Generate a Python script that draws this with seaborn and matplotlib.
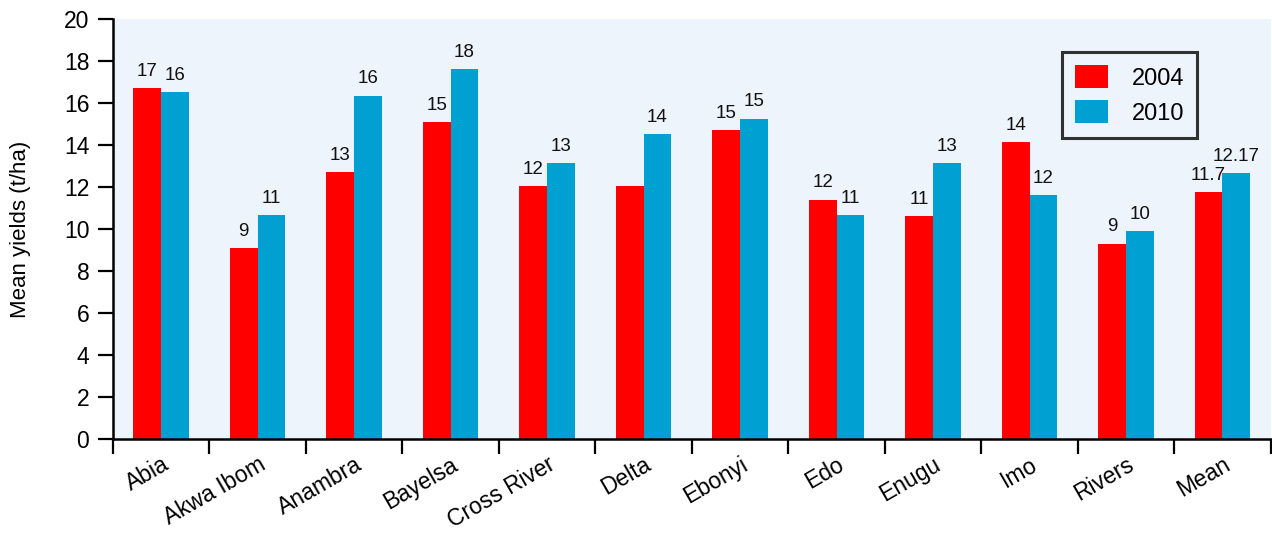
import matplotlib
matplotlib.use("Agg")
import matplotlib.pyplot as plt
import seaborn as sns
import pandas as pd

# Mean yields (t/ha) by state, two survey years
states = ["Abia", "Akwa Ibom", "Anambra", "Bayelsa", "Cross River", "Delta",
          "Ebonyi", "Edo", "Enugu", "Imo", "Rivers", "Mean"]
years = ["2004", "2010"]
yield_2004 = [16.7, 9.1, 12.7, 15.1, 12.05, 12.05, 14.7, 11.4, 10.6, 14.15, 9.3, 11.75]
yield_2010 = [16.5, 10.65, 16.35, 17.6, 13.15, 14.5, 15.25, 10.65, 13.15, 11.6, 9.9, 12.65]
labels_2004 = ["17", "9", "13", "15", "12", "", "15", "12", "11", "14", "9", "11.7"]
labels_2010 = ["16", "11", "16", "18", "13", "14", "15", "11", "13", "12", "10", "12.17"]
y_ticks = [0, 2, 4, 6, 8, 10, 12, 14, 16, 18, 20]

colors = {"2004": "#FF0000", "2010": "#00A0D2"}

sns.set_theme(style="white")
plt.rcParams["font.family"] = ["Liberation Sans", "DejaVu Sans"]
plt.rcParams["text.color"] = "black"
plt.rcParams["axes.labelcolor"] = "black"
plt.rcParams["xtick.color"] = "black"
plt.rcParams["ytick.color"] = "black"

df = pd.DataFrame({
    "State": states * 2,
    "Year": [years[0]] * len(states) + [years[1]] * len(states),
    "Yield": yield_2004 + yield_2010,
})

fig = plt.figure(figsize=(12.72, 5.54), dpi=100)
ax = fig.add_axes([0.0888, 0.2076, 0.9102, 0.7581])
ax.set_facecolor("#EEF4FB")

sns.barplot(data=df, x="State", y="Yield", hue="Year", order=states,
            hue_order=years, palette=colors, width=0.575, gap=0,
            saturation=1, errorbar=None, linewidth=0, ax=ax)

# value labels above each bar
for container, texts in zip(ax.containers, [labels_2004, labels_2010]):
    ax.bar_label(container, labels=texts, padding=6, fontsize=13.5, color="#111111")

ax.set_xlim(-0.5, len(states) - 0.5)
ax.set_ylim(0, 20)
ax.set_yticks(y_ticks)
ax.set_yticklabels([str(t) for t in y_ticks], fontsize=16.5)
ax.set_ylabel("Mean yields (t/ha)", fontsize=16, labelpad=24)
ax.set_xlabel("")

# category labels at group centres, tick marks on group boundaries
ax.set_xticks(range(len(states)))
ax.set_xticklabels(states, rotation=30, ha="right", rotation_mode="anchor",
                   fontsize=16.5)
ax.set_xticks([i - 0.5 for i in range(len(states) + 1)], minor=True)
ax.tick_params(axis="x", which="major", length=0, pad=10)
ax.tick_params(axis="x", which="minor", length=11, width=1.6, color="black",
               direction="out", bottom=True)
ax.tick_params(axis="y", which="major", length=11, width=1.6, color="black",
               direction="out", left=True, pad=6)

for side in ["top", "right"]:
    ax.spines[side].set_visible(False)
for side in ["left", "bottom"]:
    ax.spines[side].set_color("black")
    ax.spines[side].set_linewidth(1.8)

leg = ax.legend(loc="upper left", bbox_to_anchor=(0.8195, 0.921),
                fontsize=17, frameon=True, fancybox=False, handlelength=1.4,
                handleheight=1.1, handletextpad=1.0, borderpad=0.55,
                labelspacing=0.45, borderaxespad=0, title=None)
leg.get_frame().set_edgecolor("black")
leg.get_frame().set_linewidth(2.2)
leg.get_frame().set_facecolor("#EEF4FB")

fig.savefig("out.png", dpi=100)
